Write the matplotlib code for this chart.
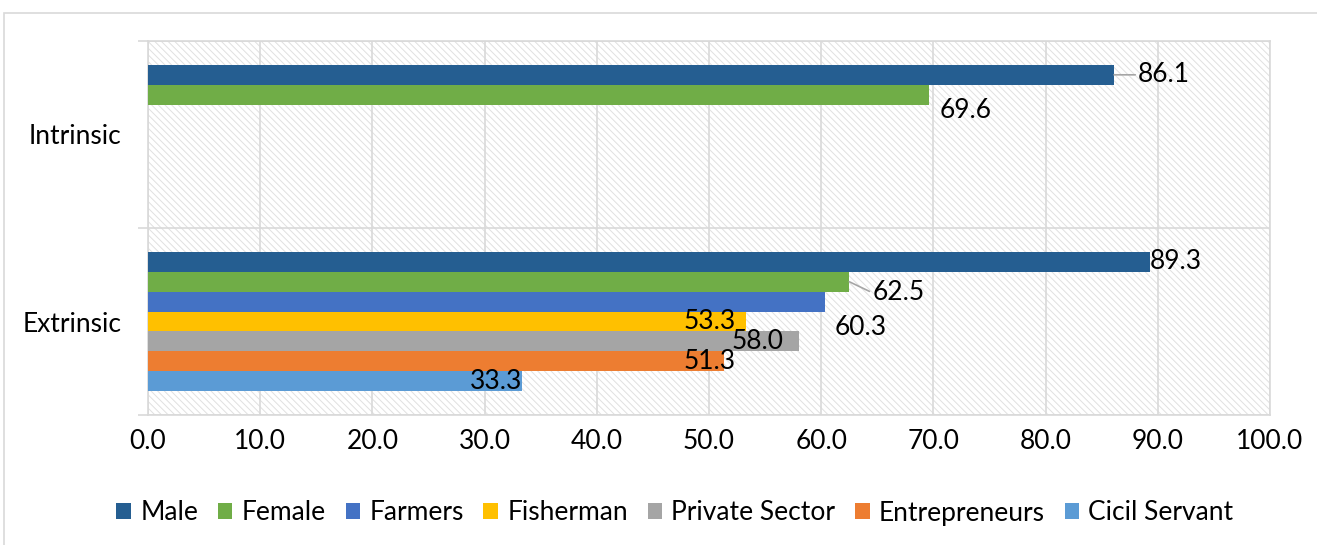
import numpy as np
import matplotlib
matplotlib.use("Agg")
import matplotlib.pyplot as plt
from matplotlib.patches import Rectangle

# data
categories = ["Intrinsic", "Extrinsic"]
series = ["Male", "Female", "Farmers", "Fisherman", "Private Sector", "Entrepreneurs", "Cicil Servant"]
intrinsic = [86.1, 69.6, np.nan, np.nan, np.nan, np.nan, np.nan]
extrinsic = [89.3, 62.5, 60.3, 53.3, 58.0, 51.3, 33.3]
x_ticks = [0, 10, 20, 30, 40, 50, 60, 70, 80, 90, 100]

colors = ["#255E91", "#70AD47", "#4472C4", "#FFC000", "#A5A5A5", "#ED7D31", "#5B9BD5"]

# label placement (pixel offsets from bar end / bar centre), leader line flag
label_offsets = {
    (0, 0): (24, 0, True),
    (0, 1): (37, -16, False),
    (1, 0): (0, 0, False),
    (1, 1): (23, -11, True),
    (1, 2): (36, -26, False),
    (1, 3): (-36, 0, False),
    (1, 4): (-41, 0, False),
    (1, 5): (-14, 0, False),
    (1, 6): (-26, 0, False),
}

plt.rcParams["font.family"] = ["Lato", "DejaVu Sans"]
FS = 19
GRID = "#d9d9d9"

fig = plt.figure(figsize=(13.17, 5.45), dpi=100)
fig.patches.append(Rectangle((4 / 1317, -0.02), 1.0, 1 - 13 / 545 + 0.02,
                             transform=fig.transFigure, fill=False,
                             edgecolor=GRID, linewidth=1.2, zorder=0))

ax = fig.add_axes([148 / 1317, 1 - 415 / 545, (1270 - 148) / 1317, (415 - 41) / 545])

# hatched plot area
plt.rcParams["hatch.linewidth"] = 0.7
plt.rcParams["hatch.color"] = "#e0e0e0"
ax.add_patch(Rectangle((0, 0), 1, 1, transform=ax.transAxes, facecolor="white",
                       edgecolor="#e0e0e0", hatch="\\\\\\\\\\", linewidth=0, zorder=0))

values = np.array([intrinsic, extrinsic])
n = len(series)
h = 20 / 188
ypos = np.arange(len(categories))
for i, name in enumerate(series):
    y = ypos - (n - 1) / 2 * h + i * h
    ax.barh(y, values[:, i], height=h, color=colors[i], label=name, zorder=3)

for (ci, si), (dx, dy, leader) in label_offsets.items():
    v = values[ci, si]
    yb = ci - (n - 1) / 2 * h + si * h
    ha = "left" if leader or (ci, si) == (1, 0) else "center"
    kw = {}
    if leader:
        kw["arrowprops"] = dict(arrowstyle="-", color="#a6a6a6", lw=1.2,
                                shrinkA=0, shrinkB=0, relpos=(0, 0.5))
    ax.annotate(f"{v:.1f}", xy=(v, yb), xytext=(dx, dy), textcoords="offset pixels",
                ha=ha, va="center", fontsize=FS, color="black", zorder=5, **kw)

ax.set_xlim(0, 100)
ax.set_ylim(1.5, -0.5)
ax.set_xticks(x_ticks)
ax.set_xticklabels([f"{t:.1f}" for t in x_ticks], fontsize=FS)
ax.set_yticks(ypos)
ax.set_yticklabels(categories, fontsize=FS)
ax.set_yticks([-0.5, 0.5, 1.5], minor=True)
ax.tick_params(axis="x", length=0, pad=10)
ax.tick_params(axis="y", which="major", length=0, pad=19)
ax.tick_params(axis="y", which="minor", length=7, color=GRID, width=1.2, direction="out")

ax.grid(axis="x", color=GRID, linewidth=1.2, zorder=1)
ax.grid(axis="y", which="minor", color=GRID, linewidth=1.2, zorder=1)
ax.set_axisbelow(True)
for s in ax.spines.values():
    s.set_color(GRID)
    s.set_linewidth(1.2)

ax.legend(loc="center", bbox_to_anchor=(675 / 1317, 1 - 513 / 545), bbox_transform=fig.transFigure,
          ncol=7, frameon=False, fontsize=FS, handlelength=0.55, handleheight=0.55,
          handletextpad=0.35, columnspacing=0.75)

fig.savefig("out.png", dpi=100)
